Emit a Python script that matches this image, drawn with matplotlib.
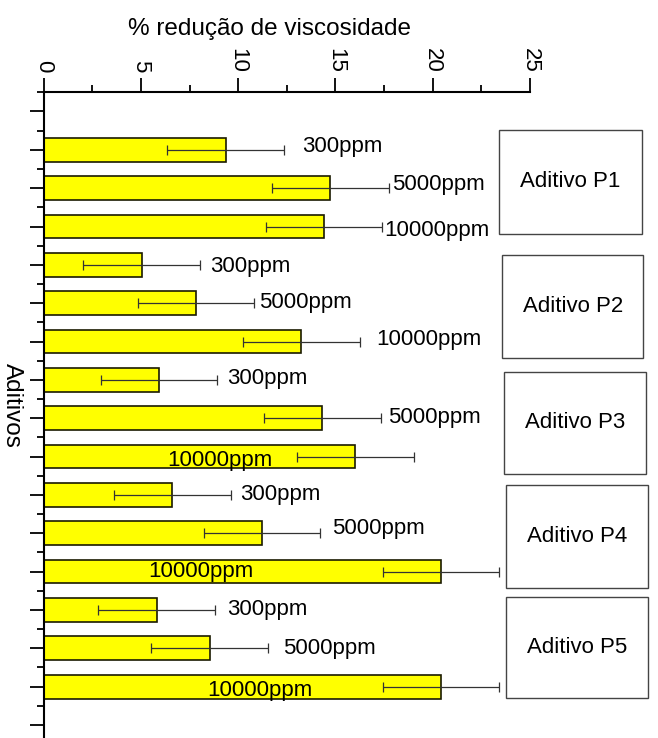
import matplotlib
matplotlib.use('Agg')
import matplotlib.pyplot as plt
from matplotlib.patches import Rectangle
from matplotlib.ticker import MultipleLocator

plt.rcParams['font.family'] = ['Liberation Sans', 'DejaVu Sans']

# % redução de viscosidade por aditivo (P1..P5) e concentração
reducao = [9.36, 14.74, 14.41,
           5.04, 7.83, 13.24,
           5.93, 14.32, 16.02,
           6.61, 11.22, 20.43,
           5.81, 8.53, 20.43]
erro = [3.0] * 15
rotulos = ['300ppm', '5000ppm', '10000ppm'] * 5
aditivos = ['Aditivo P1', 'Aditivo P2', 'Aditivo P3', 'Aditivo P4', 'Aditivo P5']

# onde ficam os rotulos de concentracao (em unidades de dados)
rot_x = [13.26, 17.89, 17.5, 8.55, 11.09, 17.08, 9.44, 17.69, 6.37, 10.09, 14.81, 5.38, 9.44, 12.32, 8.41]
rot_y = [0.91, 1.91, 3.1, 4.04, 4.97, 5.94, 6.96, 7.98, 9.09, 9.98, 10.87, 12.0, 12.98, 14.0, 15.09]

# caixas dos aditivos (x0, x1, y0, y1 em unidades de dados)
caixa_x0 = [23.41, 23.56, 23.66, 23.75, 23.75]
caixa_x1 = [30.75, 30.83, 30.97, 31.05, 31.05]
caixa_y0 = [0.477, 3.739, 6.783, 9.74, 12.65]
caixa_y1 = [3.199, 6.434, 9.46, 12.42, 15.30]

pos = list(range(1, len(reducao) + 1))

fig = plt.figure(figsize=(6.58, 7.38), dpi=100)
ax = fig.add_axes([43.7 / 658, 0, 486.3 / 658, 645.7 / 738])

ax.barh(pos, reducao, height=0.62, color='#ffff00', edgecolor='#1a1a00', linewidth=1.2)
ax.errorbar(reducao, pos, xerr=erro, fmt='none', ecolor='#333333',
            elinewidth=0.9, capsize=3.6, capthick=0.9)

for x, y, t in zip(rot_x, rot_y, rotulos):
    ax.text(x, y, t, ha='left', va='center', fontsize=16)

for x0, x1, y0, y1, nome in zip(caixa_x0, caixa_x1, caixa_y0, caixa_y1, aditivos):
    ax.add_patch(Rectangle((x0, y0), x1 - x0, y1 - y0, fill=False,
                           edgecolor='#444444', linewidth=1.0, clip_on=False))
    ax.text((x0 + x1) / 2, (y0 + y1) / 2, nome, ha='center', va='center', fontsize=16)

ax.set_xlim(0, 25)
ax.set_ylim(16.34, -0.5)

ax.xaxis.tick_top()
ax.xaxis.set_major_locator(MultipleLocator(5))
ax.xaxis.set_minor_locator(MultipleLocator(2.5))
ax.yaxis.set_major_locator(MultipleLocator(1))
ax.yaxis.set_minor_locator(MultipleLocator(0.5))
ax.tick_params(which='major', length=10, width=1.3, labelsize=16)
ax.tick_params(which='minor', length=5, width=1.3)
ax.tick_params(axis='x', which='major', pad=4)
ax.tick_params(axis='y', labelleft=False)
for lab in ax.get_xticklabels():
    lab.set_rotation(270)

ax.spines['right'].set_visible(False)
ax.spines['bottom'].set_visible(False)
ax.spines['left'].set_linewidth(1.5)
ax.spines['top'].set_linewidth(1.5)

fig.text(269.9 / 658, 1 - 28.6 / 738, '% redução de viscosidade', ha='center', va='center', fontsize=17.5)
fig.text(12.4 / 658, 1 - 405.5 / 738, 'Aditivos', ha='center', va='center', rotation=270, fontsize=17.5)

fig.savefig('out.png', dpi=100)
